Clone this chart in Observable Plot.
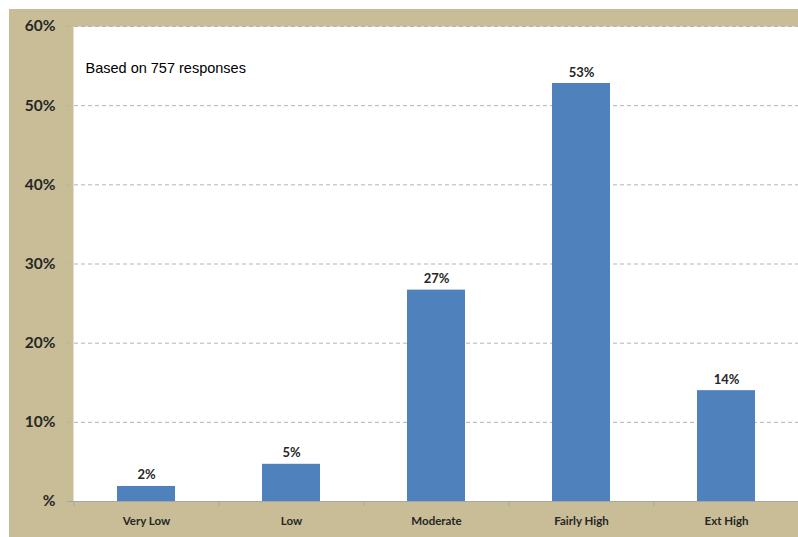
<!DOCTYPE html>
<html><head><meta charset="utf-8">
<script src="https://cdn.jsdelivr.net/npm/d3@7"></script>
<script src="https://cdn.jsdelivr.net/npm/@observablehq/plot@0.6"></script>
<style>
html,body{margin:0;padding:0;background:#fff;}
#wrap{padding:9px 0 0 9px;width:789px;height:528px;}
#wrap svg{display:block;}
</style></head>
<body><div id="wrap"></div>
<script>
const categories = ["Very Low", "Low", "Moderate", "Fairly High", "Ext High"];
const values = [1.9, 4.7, 26.7, 52.8, 14.0];
const valueLabels = ["2%", "5%", "27%", "53%", "14%"];
const yTicks = [0, 10, 20, 30, 40, 50, 60];
const yTickLabels = ["%", "10%", "20%", "30%", "40%", "50%", "60%"];
const note = "Based on 757 responses";

const data = categories.map((c, i) => ({cat: c, v: values[i], lab: valueLabels[i]}));
const labelFont = "Lato, 'Open Sans', sans-serif";

const chart = Plot.plot({
  width: 789, height: 528,
  marginLeft: 64, marginRight: 0, marginTop: 17, marginBottom: 36,
  style: {background: "#c8bd97", fontFamily: labelFont},
  x: {domain: categories, paddingInner: 0.6, paddingOuter: 0.3, label: null},
  y: {domain: [0, 60], label: null},
  marks: [
    Plot.frame({fill: "white", stroke: null}),
    Plot.ruleY(yTicks.filter(d => d > 0), {stroke: "#b3b3b3", strokeDasharray: "4,3", insetLeft: -6}),
    Plot.ruleY([0], {stroke: "#a6a6a6", insetLeft: -6}),
    Plot.ruleX(categories, {x: d => d, y1: 0, y2: 0, insetBottom: -5, dx: -72.5, stroke: "#a6a6a6"}),
    Plot.barY(data, {x: "cat", y: "v", fill: "#4f81bd"}),
    Plot.text(data, {x: "cat", y: "v", text: "lab", lineAnchor: "bottom", dy: -7, fontWeight: "bold", fontSize: 13, fill: "#262626"}),
    Plot.axisY({ticks: yTicks, tickFormat: (d) => yTickLabels[yTicks.indexOf(d)], tickSize: 0, tickPadding: 18, fontWeight: "bold", fontSize: 15.5, fill: "#262626"}),
    Plot.axisX({tickSize: 0, tickPadding: 15, fontWeight: "bold", fontSize: 11.5, fill: "#262626"}),
    Plot.text([note], {frameAnchor: "top-left", dx: 12, dy: 42, lineAnchor: "middle", fontSize: 14.5, fill: "#000", fontFamily: "'Liberation Sans', Arial, sans-serif"})
  ]
});
document.getElementById("wrap").appendChild(chart);
</script></body></html>
